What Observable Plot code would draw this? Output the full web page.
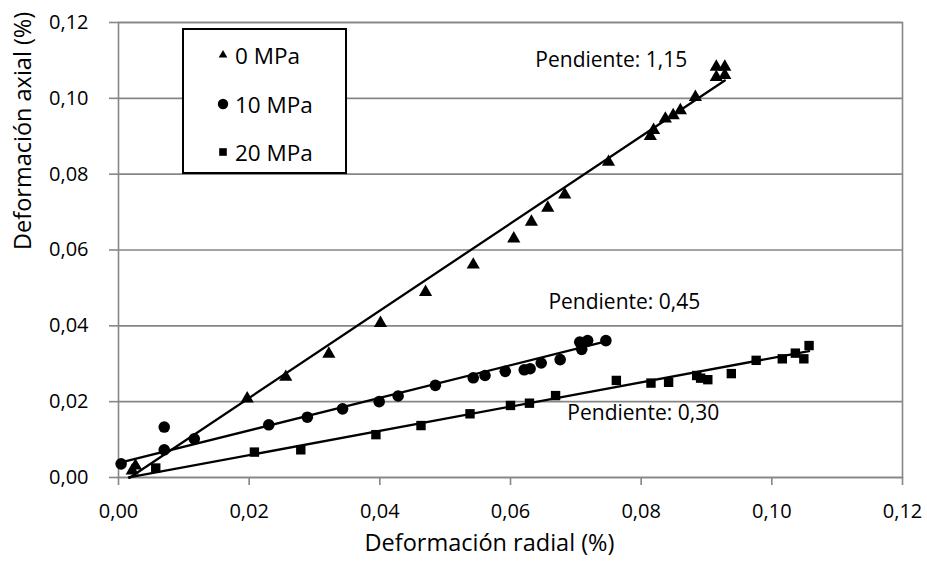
<!DOCTYPE html>
<html>
<head>
<meta charset="utf-8">
<script src="https://cdn.jsdelivr.net/npm/d3@7"></script>
<script src="https://cdn.jsdelivr.net/npm/@observablehq/plot@0.6"></script>
<style>
  html, body { margin: 0; padding: 0; background: #fff; }
  #wrap { position: relative; width: 927px; height: 562px; font-family: "Open Sans", sans-serif; }
  #legend { position: absolute; left: 182px; top: 28px; width: 161px; height: 142px; border: 2px solid #000; background: #fff; }
  .item { position: absolute; left: 0; height: 30px; display: flex; align-items: center; font-size: 22.5px; color: #000; }
  .item svg { margin-left: 33px; margin-right: 6px; }
</style>
</head>
<body>
<div id="wrap">
  <div id="chart"></div>
  <div id="legend"></div>
</div>
<script>
// Series names
const seriesNames = ["0 MPa", "10 MPa", "20 MPa"];

// 0 MPa (triangles)
const radial0 = [0.0021, 0.0026, 0.0197, 0.0256, 0.0322, 0.0401, 0.0470, 0.0543, 0.0605, 0.0632, 0.0657, 0.0683, 0.0750, 0.0814, 0.0819, 0.0837, 0.0849, 0.0860, 0.0883, 0.0915, 0.0915, 0.0928, 0.0928];
const axial0  = [0.0018, 0.0031, 0.0208, 0.0265, 0.0326, 0.0407, 0.0489, 0.0561, 0.0630, 0.0674, 0.0711, 0.0746, 0.0832, 0.0900, 0.0916, 0.0946, 0.0955, 0.0968, 0.1003, 0.1056, 0.1083, 0.1061, 0.1083];

// 10 MPa (circles)
const radial10 = [0.0004, 0.0070, 0.0070, 0.0116, 0.0230, 0.0289, 0.0343, 0.0399, 0.0428, 0.0485, 0.0543, 0.0561, 0.0592, 0.0621, 0.0630, 0.0647, 0.0676, 0.0706, 0.0709, 0.0718, 0.0746];
const axial10  = [0.0036, 0.0133, 0.0073, 0.0102, 0.0139, 0.0159, 0.0181, 0.0200, 0.0215, 0.0243, 0.0263, 0.0269, 0.0280, 0.0284, 0.0287, 0.0302, 0.0311, 0.0357, 0.0338, 0.0361, 0.0361];

// 20 MPa (squares)
const radial20 = [0.0057, 0.0208, 0.0279, 0.0394, 0.0463, 0.0538, 0.0600, 0.0629, 0.0669, 0.0762, 0.0815, 0.0842, 0.0885, 0.0891, 0.0902, 0.0938, 0.0976, 0.1016, 0.1036, 0.1049, 0.1057];
const axial20  = [0.0025, 0.0067, 0.0073, 0.0113, 0.0137, 0.0168, 0.0190, 0.0196, 0.0216, 0.0256, 0.0249, 0.0251, 0.0269, 0.0262, 0.0258, 0.0274, 0.0309, 0.0313, 0.0328, 0.0313, 0.0348];

// Linear trend lines (slope, intercept, x range)
const trendSlope     = [1.15, 0.43, 0.32];
const trendIntercept = [-0.0020, 0.0038, -0.0005];
const trendXStart    = [0.0017, 0.0004, 0.0016];
const trendXEnd      = [0.0928, 0.0746, 0.1057];

// Slope annotations
const annotText = ["Pendiente: 1,15", "Pendiente: 0,45", "Pendiente: 0,30"];
const annotX    = [0.0638, 0.0658, 0.0687];
const annotY    = [0.1100, 0.0462, 0.0169];

// Axes
const xTicks = [0, 0.02, 0.04, 0.06, 0.08, 0.10, 0.12];
const yTicks = [0, 0.02, 0.04, 0.06, 0.08, 0.10, 0.12];
const xLabel = "Deformación radial (%)";
const yLabel = "Deformación axial (%)";

const fmt = d => d.toFixed(2).replace(".", ",");
const toPts = (xs, ys) => xs.map((x, i) => ({x, y: ys[i]}));
const pts0 = toPts(radial0, axial0);
const pts10 = toPts(radial10, axial10);
const pts20 = toPts(radial20, axial20);

const trendPts = [];
seriesNames.forEach((s, i) => {
  [trendXStart[i], trendXEnd[i]].forEach(x => trendPts.push({s, x, y: trendSlope[i] * x + trendIntercept[i]}));
});
const annots = annotText.map((t, i) => ({t, x: annotX[i], y: annotY[i]}));

const grey = "#868686";
const chart = Plot.plot({
  width: 927,
  height: 562,
  marginLeft: 118,
  marginRight: 25,
  marginTop: 22,
  marginBottom: 85,
  style: {fontFamily: "'Open Sans', sans-serif", fontSize: "20px", color: "#000", background: "#fff"},
  x: {domain: [0, 0.12]},
  y: {domain: [0, 0.12]},
  marks: [
    Plot.gridY(yTicks, {stroke: grey, strokeOpacity: 1, strokeWidth: 1.6}),
    Plot.frame({stroke: grey, strokeWidth: 1.6}),
    Plot.axisX(xTicks, {tickFormat: fmt, tickSize: 8, tickPadding: 18, stroke: grey, strokeWidth: 1.6, fill: "#000", fontSize: 20, label: null}),
    Plot.axisY(yTicks, {tickFormat: fmt, tickSize: 9, tickPadding: 21, stroke: grey, strokeWidth: 1.6, fill: "#000", fontSize: 20, label: null}),
    Plot.line(trendPts, {x: "x", y: "y", z: "s", stroke: "#000", strokeWidth: 2.3}),
    Plot.dot(pts0, {x: "x", y: "y", symbol: "triangle", r: 4.9, fill: "#000", stroke: null}),
    Plot.dot(pts10, {x: "x", y: "y", symbol: "circle", r: 5.8, fill: "#000", stroke: null}),
    Plot.dot(pts20, {x: "x", y: "y", symbol: "square", r: 5.3, fill: "#000", stroke: null}),
    Plot.text(annots, {x: "x", y: "y", text: "t", textAnchor: "start", fill: "#000", fontSize: 21}),
    Plot.text([xLabel], {frameAnchor: "bottom", dy: 73, dx: -21, fill: "#000", fontSize: 23.5}),
    Plot.text([yLabel], {frameAnchor: "left", dx: -95, rotate: -90, fill: "#000", fontSize: 23.5})
  ]
});
document.getElementById("chart").appendChild(chart);

// Legend
const legend = document.getElementById("legend");
const syms = [d3.symbolTriangle, d3.symbolCircle, d3.symbolSquare];
const symSize = [33, 85, 58];
const tops = [10, 59, 107];
seriesNames.forEach((name, i) => {
  const div = document.createElement("div");
  div.className = "item";
  div.style.top = tops[i] + "px";
  const path = d3.symbol(syms[i], symSize[i])();
  div.innerHTML = `<svg width="12" height="12" viewBox="-6 -6 12 12"><path d="${path}" fill="#000"/></svg><span>${name}</span>`;
  legend.appendChild(div);
});
</script>
</body>
</html>
